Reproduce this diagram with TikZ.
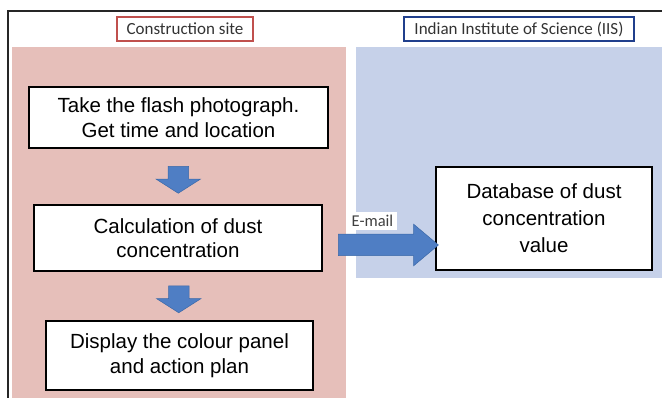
\documentclass[tikz,border=0pt]{standalone}
\usepackage{fontspec}
\setmainfont{Liberation Sans}
\newfontfamily\headfont{Carlito}
\usetikzlibrary{shapes.arrows,calc,positioning}
\definecolor{sitepink}{HTML}{E6BFBA}
\definecolor{iisblue}{HTML}{C6D1E9}
\definecolor{arrowblue}{HTML}{4F7EC4}
\definecolor{arrowedge}{HTML}{3A68A8}
\definecolor{headred}{HTML}{C0504D}
\definecolor{headblue}{HTML}{203F8C}
\tikzset{
  stepbox/.style={draw=black, line width=1.4pt, fill=white, align=center, inner sep=0pt,
    font=\fontsize{20.5}{24.5}\selectfont},
  headbox/.style={draw, line width=1.4pt, fill=white, inner sep=0pt, minimum height=24pt,
    font=\headfont\fontsize{17}{19}\selectfont, text=black!80},
  blockarrow/.style={single arrow, fill=arrowblue, draw=arrowedge, line width=0.5pt,
    inner xsep=0pt, inner ysep=10pt},
  downarrow/.style={blockarrow, rotate=-90, minimum height=27pt,
    minimum width=44pt, single arrow head extend=12pt, single arrow tip angle=115},
}
\begin{document}
\begin{tikzpicture}[x=1pt, y=-1pt]
		\useasboundingbox (0,0) rectangle (662,398);
		\fill [white] (0,0) rectangle (662,398);
		% panels
		\fill [sitepink] (12,47) rectangle (346,398);
		\fill [iisblue] (356,47) rectangle (662,278);
		\draw [line width=1.5pt, black!85] (8,398) -- (8,11) -- (662,11);
		% headers
		\node [headbox, draw=headred, minimum width=136pt] (site) at (185,29) {Construction site};
		\node [headbox, draw=headblue, minimum width=230pt] (iis) at (519,29) {Indian Institute of Science (IIS)};
		% steps
		\node [stepbox, minimum width=299pt, minimum height=61pt] (photo) at (178.5,117.5) {Take the flash photograph.\\Get time and location};
		\node [stepbox, minimum width=288pt, minimum height=66pt] (calc) at (178,238) {Calculation of dust\\concentration};
		\node [stepbox, minimum width=267pt, minimum height=69pt] (panel) at (179.5,355.5) {Display the colour panel\\and action plan};
		\node [stepbox, minimum width=216pt, minimum height=103pt, font=\fontsize{20.5}{27}\selectfont] (db) at (544,218.5) {Database of dust\\concentration\\value};
		% arrows
		\node [downarrow] (a1) at ($(photo.south)!0.5!(calc.north)$) {};
		\node [downarrow] (a2) at ($(calc.south)!0.5!(panel.north)$) {};
		\node [blockarrow, inner ysep=10.5pt, minimum height=100pt, minimum width=41pt,
			single arrow head extend=10pt, single arrow tip angle=80] (mail) at (382,245) {};
		\node [fill=white, inner xsep=4pt, inner ysep=3pt, font=\headfont\fontsize{16.5}{18}\selectfont,
			text=black!75] (maillabel) at (372.5,221) {E-mail};
	\end{tikzpicture}
\end{document}
